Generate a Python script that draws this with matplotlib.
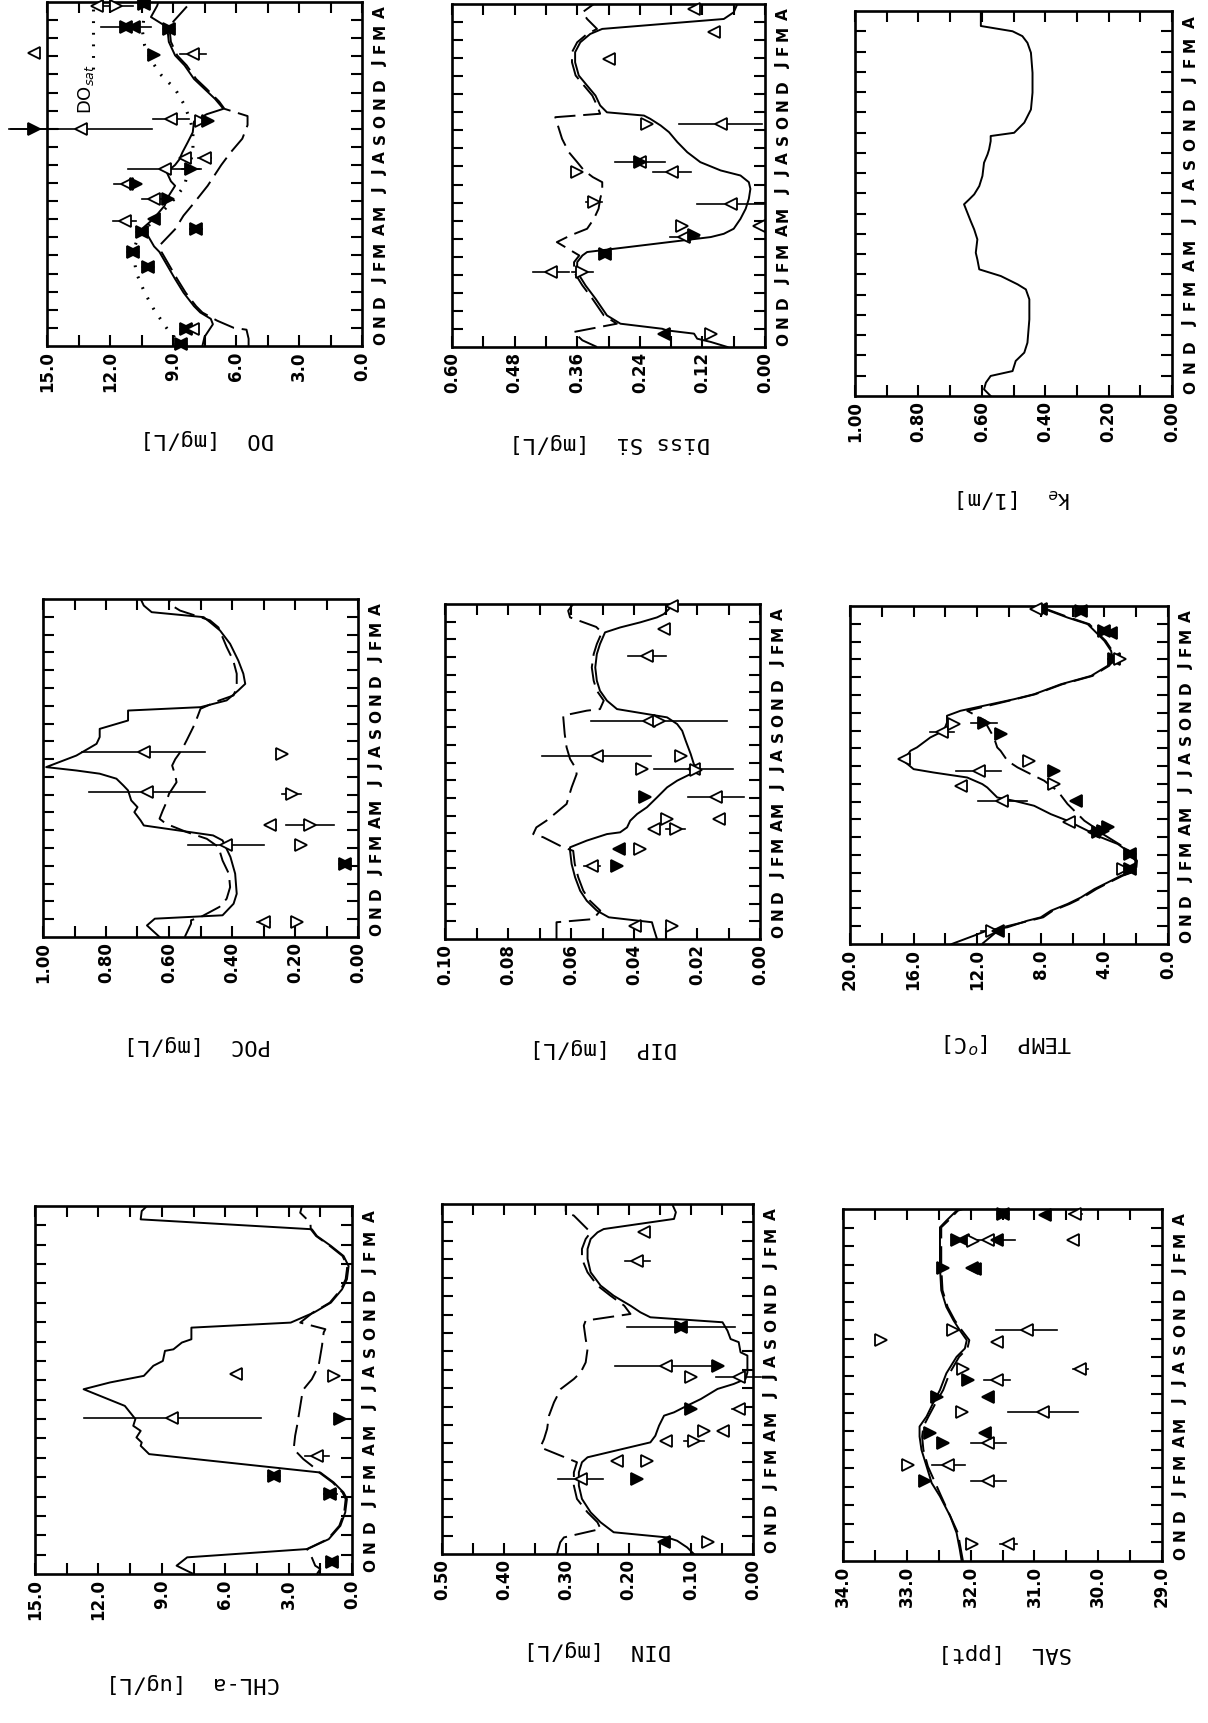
import numpy as np
import matplotlib
matplotlib.use("Agg")
import matplotlib.pyplot as plt

MONTHS = list("ONDJFMAMJJASONDJFMA")

# ---------------- CHL-a ----------------
CHL_SURF_T = [0, 0.43, 0.86, 1.29, 1.8, 2.49, 3.18, 3.87, 4.21, 4.73, 5.24, 6.19, 6.62, 6.79, 7.05, 7.39, 7.65, 8.0, 8.34, 8.68, 9.54, 9.89, 10.06, 10.23, 10.75, 11.0, 11.52, 11.6, 11.95, 12.12, 12.72, 12.98, 13.5, 14.01, 14.7, 15.22, 15.9, 16.42, 16.94, 17.45, 17.8, 18.31, 18.74, 19.0]
CHL_SURF_V = [7.5, 8.3, 7.8, 2.1, 1.1, 0.55, 0.32, 0.24, 0.4, 0.87, 1.5, 9.6, 10.0, 9.95, 10.2, 10.0, 10.35, 10.25, 10.5, 10.75, 12.7, 11.45, 10.65, 9.85, 9.4, 8.95, 8.85, 8.45, 8.05, 7.6, 7.6, 2.9, 1.8, 1.0, 0.47, 0.24, 0.16, 0.4, 1.0, 1.66, 1.9, 10.0, 9.95, 9.7]
CHL_BOT_T = [0, 0.26, 0.43, 1.03, 1.29, 1.8, 2.49, 3.18, 3.87, 4.21, 4.73, 5.24, 5.59, 5.93, 6.45, 7.14, 7.65, 9.2, 9.54, 10.06, 10.75, 11.78, 12.47, 12.64, 12.98, 13.5, 14.01, 14.7, 15.22, 15.9, 16.42, 16.94, 17.45, 17.8, 18.14, 18.65, 19.0]
CHL_BOT_V = [1.66, 1.5, 1.74, 1.97, 2.13, 1.15, 0.6, 0.37, 0.3, 0.45, 0.92, 1.55, 1.9, 2.3, 2.76, 2.69, 2.6, 2.37, 2.29, 1.9, 1.58, 1.42, 1.34, 1.26, 2.45, 1.85, 1.05, 0.52, 0.3, 0.22, 0.45, 1.05, 1.7, 1.95, 1.97, 2.45, 2.37]
CHL_OBS = [(0.6, 0.95, 'fu', 0), (0.6, 0.95, 'fd', 0),
           (4.13, 1.03, 'fu', 0.3), (4.13, 1.03, 'fd', 0),
           (5.07, 3.7, 'fu', 0), (5.07, 3.7, 'fd', 0),
           (6.1, 1.66, 'ou', 0.55), (8.0, 0.55, 'fd', 0),
           (8.08, 8.5, 'ou', 4.2), (10.32, 5.5, 'ou', 0), (10.23, 0.87, 'od', 0)]

# ---------------- POC ----------------
POC_SURF_T = [0, 0.65, 1.03, 1.22, 1.87, 2.43, 3.56, 4.5, 5.06, 5.43, 5.71, 6.27, 6.55, 7.02, 7.3, 7.68, 8.24, 8.52, 8.9, 9.18, 9.36, 9.55, 10.2, 10.58, 10.86, 11.24, 11.7, 12.17, 12.73, 12.92, 13.3, 13.86, 14.23, 14.8, 15.54, 16.48, 17.23, 17.7, 17.98, 18.26, 18.63, 19.0]
POC_SURF_V = [0.63, 0.67, 0.645, 0.43, 0.395, 0.385, 0.39, 0.405, 0.42, 0.43, 0.46, 0.68, 0.69, 0.71, 0.70, 0.72, 0.73, 0.745, 0.767, 0.82, 0.894, 0.99, 0.894, 0.857, 0.83, 0.82, 0.82, 0.73, 0.73, 0.50, 0.417, 0.38, 0.358, 0.364, 0.38, 0.406, 0.438, 0.47, 0.49, 0.655, 0.68, 0.69]
POC_BOT_T = [0, 0.75, 0.94, 1.12, 1.69, 2.15, 2.8, 3.56, 4.3, 5.06, 5.52, 5.9, 6.37, 6.65, 7.1, 7.5, 8.05, 8.7, 9.08, 9.64, 10.0, 10.5, 11.05, 11.8, 12.36, 12.83, 13.3, 13.58, 14.05, 14.8, 15.54, 16.3, 17.4, 17.8, 18.35, 18.7, 19.0]
POC_BOT_V = [0.55, 0.53, 0.53, 0.50, 0.44, 0.417, 0.406, 0.41, 0.43, 0.443, 0.48, 0.544, 0.61, 0.63, 0.62, 0.61, 0.60, 0.576, 0.58, 0.59, 0.58, 0.56, 0.544, 0.523, 0.51, 0.50, 0.44, 0.395, 0.385, 0.385, 0.396, 0.417, 0.443, 0.47, 0.565, 0.597, 0.60]
POC_OBS = [(0.84, 0.30, 'ou', 0.02), (0.84, 0.195, 'od', 0),
           (4.12, 0.04, 'fu', 0), (4.12, 0.04, 'fd', 0),
           (5.15, 0.42, 'ou', 0.12), (5.15, 0.18, 'od', 0),
           (6.27, 0.28, 'ou', 0), (6.27, 0.152, 'od', 0.077),
           (8.15, 0.67, 'ou', 0.185), (8.05, 0.21, 'od', 0.03),
           (10.4, 0.68, 'ou', 0.195), (10.3, 0.242, 'od', 0)]

# ---------------- DO ----------------
DO_SURF_T = [0, 0.5, 1.2, 1.5, 1.85, 2.2, 2.95, 3.7, 4.4, 5.2, 5.5, 6.1, 6.45, 7.0, 7.75, 8.3, 8.85, 9.1, 9.6, 10.0, 10.3, 10.7, 11.25, 11.8, 12.4, 12.8, 13.1, 13.65, 14.2, 14.75, 15.5, 16.05, 16.8, 17.35, 17.7, 18.17, 18.8, 19.0]
DO_SURF_V = [7.6, 7.5, 7.1, 7.2, 7.7, 8.0, 8.5, 8.9, 9.25, 9.65, 9.9, 10.2, 10.5, 9.95, 9.4, 9.2, 8.9, 9.1, 9.3, 8.9, 8.7, 8.55, 8.3, 8.06, 8.0, 7.4, 6.6, 7.0, 7.5, 8.0, 8.45, 8.9, 9.2, 9.25, 9.4, 10.05, 9.75, 9.7]
DO_BOT_T = [0, 0.4, 0.9, 1.0, 1.4, 1.85, 2.2, 2.95, 3.7, 4.4, 5.2, 5.6, 6.45, 7.2, 7.9, 8.85, 10.0, 10.7, 11.45, 12.2, 12.7, 13.1, 13.5, 14.2, 14.75, 15.5, 16.05, 16.8, 17.35, 17.7, 17.9, 18.8, 19.0]
DO_BOT_V = [5.4, 5.4, 5.5, 6.1, 6.9, 7.6, 7.9, 8.4, 8.8, 9.15, 9.55, 9.6, 8.9, 8.5, 8.0, 7.35, 6.7, 6.25, 5.7, 5.45, 5.45, 6.55, 6.8, 7.4, 7.9, 8.35, 8.8, 9.1, 9.15, 9.3, 9.0, 8.3, 8.2]
DO_SAT_T = [0, 0.9, 2.0, 2.95, 4.05, 5.2, 5.9, 6.8, 7.55, 8.1, 8.85, 9.6, 10.7, 11.8, 12.35, 13.3, 14.2, 14.95, 15.7, 16.6, 17.35, 18.0]
DO_SAT_V = [8.55, 9.25, 9.9, 10.35, 10.75, 10.9, 10.7, 10.05, 9.4, 8.95, 8.45, 8.3, 8.05, 8.05, 8.15, 8.45, 8.9, 9.55, 10.0, 10.35, 10.45, 10.4]
DO_OBS = [(0.1, 8.6, 'fu', 0), (0.1, 8.6, 'fd', 0),
          (0.92, 8.4, 'fu', 0), (0.92, 8.4, 'fd', 0), (0.92, 8.05, 'ou', 0),
          (5.17, 10.9, 'fu', 0), (5.17, 10.9, 'fd', 0),
          (4.34, 10.2, 'fu', 0), (4.34, 10.2, 'fd', 0),
          (6.27, 10.5, 'fu', 0), (6.27, 10.5, 'fd', 0),
          (6.46, 7.9, 'fu', 0.3), (6.46, 7.9, 'fd', 0),
          (6.9, 11.3, 'ou', 0.55), (7.0, 9.9, 'fu', 0),
          (8.1, 9.9, 'ou', 0.6), (8.1, 9.25, 'fd', 0),
          (8.95, 11.2, 'ou', 0.6), (8.95, 10.75, 'fd', 0),
          (9.8, 9.4, 'ou', 1.75), (9.8, 8.15, 'fd', 0.4),
          (10.4, 8.45, 'ou', 0), (10.4, 7.5, 'ou', 0.3),
          (12.0, 15.6, 'fd', 1.1), (12.0, 13.4, 'ou', 3.4),
          (12.55, 9.1, 'ou', 0.85), (12.45, 7.65, 'od', 0), (12.45, 7.35, 'fd', 0),
          (16.2, 15.6, 'ou', 0), (16.1, 9.9, 'fd', 0), (16.15, 8.05, 'ou', 0.6),
          (17.6, 11.25, 'fu', 1.2), (17.6, 11.25, 'fd', 0), (17.6, 10.85, 'fu', 0),
          (17.5, 9.2, 'fu', 0), (17.5, 9.2, 'fd', 0),
          (18.8, 12.6, 'ou', 0), (18.8, 11.7, 'od', 0.8),
          (18.9, 10.4, 'fu', 0), (18.9, 10.4, 'fd', 0)]

# ---------------- DIN ----------------
DIN_SURF_T = [0, 0.36, 0.72, 0.9, 1.18, 1.72, 2.26, 2.99, 3.71, 4.43, 4.98, 5.25, 6.06, 6.42, 6.7, 6.97, 7.51, 7.69, 8.05, 8.41, 8.96, 9.23, 9.5, 9.86, 10.77, 10.95, 11.5, 11.67, 12.12, 12.58, 12.85, 13.12, 13.48, 14.02, 14.57, 15.29, 16.02, 16.56, 17.1, 17.46, 17.64, 18.19, 18.55, 19.0]
DIN_SURF_V = [0.095, 0.106, 0.122, 0.138, 0.224, 0.245, 0.261, 0.275, 0.28, 0.28, 0.275, 0.266, 0.165, 0.157, 0.154, 0.151, 0.143, 0.127, 0.106, 0.084, 0.057, 0.031, 0.012, 0.009, 0.009, 0.02, 0.023, 0.036, 0.041, 0.049, 0.165, 0.181, 0.197, 0.224, 0.245, 0.261, 0.266, 0.266, 0.261, 0.25, 0.24, 0.127, 0.124, 0.13]
DIN_BOT_T = [0, 0.63, 0.9, 1.36, 1.72, 2.26, 2.99, 3.71, 4.43, 4.98, 5.79, 6.24, 6.79, 7.51, 8.23, 8.96, 9.5, 9.86, 10.4, 11.13, 11.67, 12.4, 12.67, 13.03, 13.48, 14.02, 14.57, 15.29, 16.02, 16.56, 17.1, 17.46, 18.37, 18.55, 19.0]
DIN_BOT_V = [0.315, 0.31, 0.304, 0.245, 0.25, 0.266, 0.283, 0.288, 0.288, 0.283, 0.342, 0.336, 0.331, 0.328, 0.32, 0.309, 0.288, 0.277, 0.269, 0.266, 0.269, 0.272, 0.269, 0.197, 0.207, 0.229, 0.25, 0.266, 0.275, 0.275, 0.269, 0.261, 0.288, 0.301, 0.301]
DIN_OBS = [(0.63, 0.143, 'fu', 0), (0.63, 0.073, 'od', 0),
           (4.07, 0.277, 'ou', 0.036), (4.07, 0.186, 'fd', 0),
           (5.07, 0.218, 'ou', 0), (5.07, 0.17, 'od', 0),
           (6.15, 0.14, 'ou', 0), (6.15, 0.095, 'od', 0.016),
           (6.7, 0.079, 'od', 0), (6.7, 0.049, 'ou', 0),
           (7.87, 0.1, 'fd', 0), (7.87, 0.023, 'ou', 0.01),
           (9.59, 0.1, 'od', 0), (9.59, 0.023, 'ou', 0.036),
           (10.22, 0.14, 'ou', 0.082), (10.22, 0.057, 'fd', 0),
           (12.3, 0.116, 'fu', 0.087), (12.3, 0.116, 'fd', 0),
           (15.92, 0.186, 'ou', 0.02), (17.46, 0.175, 'ou', 0)]

# ---------------- DIP ----------------
DIP_SURF_T = [0, 0.57, 0.95, 1.23, 1.61, 2.17, 2.74, 3.5, 4.25, 5.0, 5.2, 5.58, 5.95, 6.05, 6.33, 6.71, 7.09, 7.47, 8.03, 8.6, 8.98, 9.36, 9.55, 9.92, 10.49, 11.25, 11.81, 12.19, 12.57, 13.04, 13.52, 14.08, 14.65, 15.4, 16.16, 16.73, 17.39, 17.67, 17.96, 18.24, 18.43, 18.81, 19.0]
DIP_SURF_V = [0.0327, 0.0337, 0.0343, 0.048, 0.0518, 0.055, 0.0571, 0.0587, 0.0598, 0.0603, 0.0603, 0.055, 0.0486, 0.0444, 0.0422, 0.0412, 0.039, 0.0359, 0.0327, 0.0295, 0.0263, 0.022, 0.0194, 0.021, 0.022, 0.0236, 0.0247, 0.0263, 0.0295, 0.0454, 0.0486, 0.0508, 0.0518, 0.0523, 0.0518, 0.0508, 0.0492, 0.0444, 0.038, 0.0327, 0.0305, 0.0284, 0.028]
DIP_BOT_T = [0, 0.95, 1.13, 1.61, 2.17, 2.74, 3.5, 4.25, 5.0, 5.2, 5.77, 5.95, 6.33, 6.71, 7.18, 7.66, 8.6, 9.36, 9.74, 10.21, 10.87, 11.63, 12.67, 12.95, 13.04, 13.52, 14.08, 14.65, 15.4, 16.16, 16.73, 17.39, 17.7, 18.24, 18.62, 19.0]
DIP_BOT_V = [0.0646, 0.0646, 0.0529, 0.0507, 0.054, 0.0561, 0.0577, 0.0588, 0.0593, 0.0625, 0.0688, 0.072, 0.071, 0.0678, 0.0646, 0.0614, 0.0598, 0.0582, 0.0587, 0.0603, 0.0614, 0.062, 0.0625, 0.055, 0.0508, 0.0496, 0.0518, 0.0528, 0.0534, 0.0528, 0.0518, 0.0502, 0.052, 0.0603, 0.0609, 0.0593]
DIP_OBS = [(0.76, 0.0396, 'ou', 0.001), (0.76, 0.0279, 'od', 0),
           (4.16, 0.0534, 'ou', 0.0025), (4.16, 0.0454, 'fd', 0),
           (5.1, 0.0449, 'fu', 0), (5.1, 0.038, 'od', 0),
           (6.24, 0.0337, 'ou', 0), (6.24, 0.0268, 'od', 0.003),
           (6.8, 0.0295, 'od', 0), (6.8, 0.013, 'ou', 0),
           (8.03, 0.0364, 'fd', 0), (8.03, 0.014, 'ou', 0.009),
           (9.64, 0.0375, 'od', 0), (9.64, 0.021, 'ou', 0.0125), (9.6, 0.0204, 'od', 0),
           (10.4, 0.0518, 'ou', 0.0173), (10.4, 0.0252, 'od', 0),
           (12.38, 0.0353, 'ou', 0), (12.38, 0.032, 'od', 0.0216),
           (16.07, 0.0359, 'ou', 0.006), (17.58, 0.0305, 'ou', 0), (18.9, 0.0279, 'ou', 0)]

# ---------------- Diss Si ----------------
SI_SURF_T = [0, 0.28, 0.46, 0.74, 0.92, 1.01, 1.29, 1.75, 2.68, 3.41, 4.15, 4.7, 5.07, 5.26, 6.09, 6.27, 6.55, 7.1, 7.66, 8.2, 8.76, 9.13, 9.5, 9.78, 10.24, 10.79, 11.35, 11.9, 12.27, 12.64, 12.82, 13.0, 13.38, 13.93, 14.48, 15.04, 15.77, 16.33, 16.88, 17.34, 17.62, 18.17, 18.54, 19.0]
SI_SURF_V = [0.072, 0.104, 0.13, 0.136, 0.188, 0.197, 0.277, 0.303, 0.325, 0.344, 0.36, 0.36, 0.35, 0.341, 0.104, 0.079, 0.06, 0.047, 0.037, 0.031, 0.028, 0.031, 0.047, 0.085, 0.124, 0.149, 0.168, 0.184, 0.2, 0.22, 0.232, 0.303, 0.316, 0.325, 0.341, 0.357, 0.364, 0.364, 0.354, 0.335, 0.312, 0.079, 0.06, 0.053]
SI_BOT_T = [0, 0.37, 0.83, 1.29, 1.75, 2.68, 3.41, 4.15, 4.7, 5.07, 5.81, 6.18, 6.55, 7.1, 7.66, 8.2, 8.67, 9.13, 9.41, 9.78, 10.24, 10.79, 11.53, 12.45, 12.73, 12.92, 13.38, 13.93, 14.48, 15.04, 15.77, 16.33, 16.88, 17.34, 17.62, 18.17, 18.54, 19.0]
SI_BOT_V = [0.322, 0.35, 0.367, 0.284, 0.309, 0.331, 0.35, 0.366, 0.366, 0.356, 0.399, 0.373, 0.341, 0.328, 0.319, 0.316, 0.312, 0.312, 0.33, 0.347, 0.36, 0.376, 0.389, 0.399, 0.402, 0.316, 0.322, 0.331, 0.347, 0.363, 0.37, 0.37, 0.36, 0.341, 0.322, 0.341, 0.35, 0.328]
SI_OBS = [(0.74, 0.194, 'fu', 0), (0.74, 0.104, 'od', 0),
          (4.15, 0.41, 'ou', 0.035), (4.15, 0.35, 'od', 0.02),
          (5.17, 0.306, 'fu', 0), (5.17, 0.306, 'fd', 0),
          (6.09, 0.155, 'ou', 0.028), (6.18, 0.136, 'fd', 0),
          (6.73, 0.159, 'od', 0), (6.73, 0.012, 'ou', 0),
          (7.93, 0.066, 'ou', 0.064), (8.03, 0.328, 'od', 0.015),
          (9.69, 0.36, 'od', 0), (9.69, 0.178, 'ou', 0.037),
          (10.24, 0.239, 'ou', 0.048), (10.24, 0.239, 'fd', 0),
          (12.36, 0.226, 'od', 0), (12.36, 0.085, 'ou', 0.08),
          (15.96, 0.30, 'ou', 0.008), (17.43, 0.098, 'ou', 0), (18.73, 0.136, 'ou', 0)]

# ---------------- SAL ----------------
SAL_SURF_T = [0, 0.63, 1.52, 2.42, 3.49, 4.21, 5.11, 6.0, 6.72, 7.26, 7.8, 8.51, 9.23, 10.13, 11.02, 11.47, 11.92, 12.46, 13.0, 13.71, 14.61, 15.86, 17.47, 18.01, 18.37, 18.91, 19.0]
SAL_SURF_V = [32.14, 32.17, 32.22, 32.32, 32.48, 32.61, 32.69, 32.77, 32.8, 32.8, 32.69, 32.59, 32.48, 32.38, 32.22, 32.09, 32.06, 32.17, 32.27, 32.38, 32.46, 32.48, 32.48, 32.48, 32.38, 32.22, 32.15]
SAL_BOT_T = [0, 1.52, 3.49, 5.11, 6.0, 6.72, 7.26, 7.8, 8.51, 9.23, 10.13, 11.02, 11.47, 11.92, 12.46, 13.0, 13.71, 14.61, 15.86, 17.47, 18.01, 18.37, 18.91, 19.0]
SAL_BOT_V = [32.12, 32.2, 32.46, 32.67, 32.74, 32.76, 32.74, 32.66, 32.55, 32.43, 32.33, 32.18, 32.05, 32.02, 32.14, 32.25, 32.36, 32.44, 32.46, 32.46, 32.46, 32.35, 32.2, 32.12]
SAL_OBS = [(0.9, 31.98, 'od', 0), (0.9, 31.41, 'ou', 0.13),
           (4.3, 32.72, 'fd', 0), (4.3, 31.72, 'ou', 0.27),
           (5.2, 32.98, 'od', 0), (5.2, 32.35, 'ou', 0.26),
           (6.36, 32.43, 'fd', 0), (6.36, 31.72, 'ou', 0.28), (6.9, 31.77, 'fu', 0),
           (6.9, 32.64, 'fd', 0),
           (8.06, 32.14, 'od', 0), (8.06, 30.86, 'ou', 0.55),
           (8.87, 32.53, 'fd', 0), (8.87, 31.72, 'fu', 0),
           (9.77, 32.04, 'fd', 0), (9.77, 31.59, 'ou', 0.2),
           (10.39, 32.12, 'od', 0), (10.39, 30.28, 'ou', 0.12),
           (11.92, 33.4, 'od', 0.06), (11.83, 31.59, 'ou', 0),
           (12.46, 32.27, 'od', 0), (12.46, 31.12, 'ou', 0.48),
           (15.8, 32.43, 'fd', 0), (15.8, 31.98, 'fu', 0), (15.75, 31.93, 'fu', 0),
           (17.3, 32.22, 'fd', 0), (17.3, 32.12, 'fu', 0), (17.28, 31.96, 'od', 0),
           (17.35, 31.72, 'ou', 0.42), (17.3, 31.59, 'fu', 0), (17.35, 30.39, 'ou', 0),
           (18.75, 31.49, 'fu', 0), (18.75, 31.49, 'fd', 0),
           (18.7, 30.83, 'fu', 0), (18.75, 30.36, 'ou', 0.1)]

# ---------------- TEMP ----------------
TEMP_SURF_T = [0, 0.47, 0.75, 0.94, 1.31, 1.5, 1.87, 2.25, 2.62, 3.09, 3.46, 3.84, 4.03, 4.21, 4.68, 5.15, 5.62, 5.99, 6.46, 6.93, 7.3, 7.77, 8.05, 8.24, 8.8, 8.99, 9.36, 9.64, 9.83, 10.3, 10.86, 11.05, 11.61, 11.99, 12.45, 12.83, 13.11, 13.76, 14.04, 14.6, 15.07, 15.64, 16.01, 16.48, 17.04, 17.42, 17.98, 18.35, 18.91, 19.0]
TEMP_SURF_V = [13.6, 12.2, 11.4, 10.1, 8.84, 8.0, 7.37, 6.32, 5.47, 4.63, 3.79, 2.95, 2.32, 2.1, 2.05, 2.42, 3.16, 4.2, 5.26, 6.32, 7.37, 8.42, 9.68, 10.74, 11.37, 11.68, 12.63, 14.74, 16.0, 16.63, 16.2, 15.79, 14.95, 14.1, 13.9, 13.9, 13.05, 9.68, 8.42, 6.74, 4.84, 3.79, 3.47, 3.58, 4.0, 4.42, 5.05, 6.32, 8.0, 8.2]
TEMP_BOT_T = [0, 0.56, 0.94, 1.31, 1.5, 1.87, 2.25, 2.62, 3.09, 3.46, 3.84, 4.03, 4.21, 4.68, 5.15, 5.6, 6.18, 6.55, 6.93, 7.49, 7.87, 8.61, 9.18, 9.55, 9.93, 10.3, 10.86, 11.05, 11.61, 12.27, 12.55, 13.11, 13.76, 14.04, 14.6, 15.07, 15.64, 16.01, 16.48, 17.04, 17.42, 17.98, 18.35, 18.91, 19.0]
TEMP_BOT_V = [11.7, 10.95, 10.4, 8.7, 7.85, 7.25, 6.2, 5.35, 4.5, 3.7, 2.85, 2.25, 2.0, 1.95, 2.35, 3.05, 4.1, 4.63, 5.26, 5.89, 6.32, 6.95, 7.79, 8.63, 9.47, 10.1, 10.53, 10.74, 10.95, 11.37, 11.47, 12.63, 9.6, 8.35, 6.65, 4.75, 3.7, 3.4, 3.5, 3.92, 4.35, 4.95, 6.2, 7.9, 8.1]
TEMP_OBS = [(0.75, 11.05, 'od', 0.7), (0.75, 10.7, 'fu', 0),
            (4.21, 2.84, 'od', 0), (4.21, 2.42, 'fu', 0.3), (4.21, 2.42, 'fd', 0),
            (5.06, 2.42, 'fu', 0.3), (5.06, 2.42, 'fd', 0),
            (6.27, 4.63, 'fu', 0), (6.37, 4.1, 'fd', 0), (6.55, 3.79, 'fd', 0), (6.3, 4.4, 'fd', 0),
            (6.84, 6.2, 'ou', 0), (8.05, 5.79, 'fu', 0), (8.05, 10.42, 'ou', 1.53),
            (8.99, 7.16, 'od', 0), (8.9, 13.05, 'ou', 0), (9.74, 7.16, 'fd', 0),
            (9.74, 11.9, 'ou', 1.42), (10.3, 8.74, 'od', 0), (10.39, 16.63, 'ou', 0),
            (11.8, 10.53, 'fd', 0), (11.89, 14.2, 'ou', 0.74), (12.36, 13.47, 'od', 0),
            (12.45, 11.58, 'fd', 0.8),
            (16.01, 3.37, 'fu', 0.4), (16.01, 3.37, 'fd', 0), (16.01, 3.0, 'od', 0),
            (17.6, 4.0, 'fu', 0.3), (17.6, 4.0, 'fd', 0), (17.5, 3.6, 'fu', 0),
            (18.73, 5.47, 'fu', 0.3), (18.73, 5.47, 'fd', 0),
            (18.82, 8.0, 'fu', 0), (18.82, 8.3, 'ou', 0)]

# ---------------- k_e ----------------
KE_T = [0, 0.33, 0.66, 0.99, 1.23, 1.73, 2.14, 2.63, 3.78, 4.77, 5.26, 5.51, 5.92, 6.25, 6.74, 7.07, 7.73, 8.22, 8.63, 9.46, 9.7, 9.95, 10.36, 10.86, 11.51, 11.92, 12.17, 12.58, 12.83, 12.99, 13.49, 14.14, 14.97, 15.95, 16.94, 17.43, 17.76, 18.0, 18.26, 18.91, 19.0]
KE_V = [0.572, 0.593, 0.587, 0.572, 0.503, 0.493, 0.466, 0.456, 0.45, 0.45, 0.461, 0.487, 0.54, 0.608, 0.614, 0.619, 0.614, 0.624, 0.635, 0.656, 0.64, 0.624, 0.608, 0.598, 0.593, 0.582, 0.577, 0.572, 0.572, 0.498, 0.466, 0.445, 0.44, 0.44, 0.445, 0.456, 0.472, 0.503, 0.603, 0.603, 0.60]

# ---------------- figure ----------------
W, H = 1208, 1724
fig = plt.figure(figsize=(W / 100, H / 100), dpi=100)
fig.patch.set_facecolor('white')

MK = {'ou': ('<', 'white'), 'od': ('>', 'white'), 'fu': ('<', 'black'), 'fd': ('>', 'black')}
DASH = (0, (11, 4))


def panel(rect, vmin, vmax, step, fmt, surf=None, bot=None, obs=(), label='', lab_xy=(0, 0)):
    x0, x1, y0, y1 = rect
    ax = fig.add_axes([x0 / W, 1 - y1 / H, (x1 - x0) / W, (y1 - y0) / H])
    if surf is not None:
        ax.plot(surf[1], surf[0], color='k', lw=1.4)
    if bot is not None:
        ax.plot(bot[1], bot[0], color='k', lw=1.4, linestyle=DASH)
    for t, v, kind, err in obs:
        m, fc = MK[kind]
        if err > 0:
            ax.plot([v - err, v + err], [t, t], color='k', lw=1.2, clip_on=False, zorder=4)
        ax.plot([v], [t], marker=m, ms=8, mfc=fc, mec='k', mew=1.3, ls='none',
                clip_on=False, zorder=5)
    ax.set_xlim(vmax, vmin)
    ax.set_ylim(0, 19)
    ticks = np.arange(vmin, vmax + step / 2, step)
    ax.set_xticks(ticks)
    ax.set_xticklabels([fmt.format(x) for x in ticks])
    ax.set_xticks(ticks[:-1] + step / 2, minor=True)
    ax.tick_params(axis='x', which='both', direction='in', top=True, bottom=True,
                   length=8, width=1.5, labelsize=12, pad=3, labelrotation=90)
    ax.set_yticks(np.arange(1, 19))
    ax.set_yticklabels([])
    ax.set_yticks(np.arange(0.5, 19, 1.0), minor=True)
    ax.set_yticklabels(MONTHS, minor=True)
    ax.tick_params(axis='y', which='major', direction='in', left=True, right=True,
                   length=8, width=1.5, labelleft=False, labelright=False)
    ax.tick_params(axis='y', which='minor', length=0, left=False, right=False,
                   labelleft=False, labelright=True, labelsize=11, pad=8, labelrotation=90)
    for lab in ax.get_xticklabels() + ax.get_yticklabels(minor=True):
        lab.set_fontweight('bold')
    for s in ax.spines.values():
        s.set_linewidth(1.9)
    fig.text(lab_xy[0] / W, 1 - lab_xy[1] / H, label, rotation=180, ha='center', va='center',
             fontsize=16, family='DejaVu Sans Mono')
    return ax


# left column
ax_do = panel((47, 362, 3, 347), 0, 15, 3, '{:.1f}', (DO_SURF_T, DO_SURF_V), (DO_BOT_T, DO_BOT_V),
              DO_OBS, 'DO  [mg/L]', (207, 439))
ax_do.plot(DO_SAT_V, DO_SAT_T, color='k', lw=2.2, linestyle=(0, (0.6, 3.2)))
ax_do.plot([12.8, 12.8], [15.3, 18.8], color='k', lw=2.2, linestyle=(0, (0.6, 3.2)))
ax_do.text(13.15, 14.25, 'DO$_{sat}$', rotation=90, ha='center', va='center', fontsize=13)

panel((43, 358, 600, 938), 0, 1.0, 0.2, '{:.2f}', (POC_SURF_T, POC_SURF_V), (POC_BOT_T, POC_BOT_V),
      POC_OBS, 'POC  [mg/L]', (197, 1045))
panel((35, 352, 1207, 1575), 0, 15, 3, '{:.1f}', (CHL_SURF_T, CHL_SURF_V), (CHL_BOT_T, CHL_BOT_V),
      CHL_OBS, 'CHL-a  [ug/L]', (193, 1683))

# middle column
panel((452, 765, 5, 348), 0, 0.6, 0.12, '{:.2f}', (SI_SURF_T, SI_SURF_V), (SI_BOT_T, SI_BOT_V),
      SI_OBS, 'Diss Si  [mg/L]', (610, 443))
panel((445, 760, 605, 940), 0, 0.10, 0.02, '{:.2f}', (DIP_SURF_T, DIP_SURF_V), (DIP_BOT_T, DIP_BOT_V),
      DIP_OBS, 'DIP  [mg/L]', (603, 1048))
panel((442, 753, 1205, 1555), 0, 0.5, 0.1, '{:.2f}', (DIN_SURF_T, DIN_SURF_V), (DIN_BOT_T, DIN_BOT_V),
      DIN_OBS, 'DIN  [mg/L]', (597, 1650))

# right column
panel((855, 1172, 12, 397), 0, 1.0, 0.2, '{:.2f}', (KE_T, KE_V), None, (),
      'k$_e$  [1/m]', (1015, 498))
panel((850, 1168, 607, 945), 0, 20, 4, '{:.1f}', (TEMP_SURF_T, TEMP_SURF_V), (TEMP_BOT_T, TEMP_BOT_V),
      TEMP_OBS, 'TEMP  [$^o$C]', (1008, 1042))
panel((843, 1162, 1210, 1562), 29, 34, 1, '{:.1f}', (SAL_SURF_T, SAL_SURF_V), (SAL_BOT_T, SAL_BOT_V),
      SAL_OBS, 'SAL  [ppt]', (1005, 1653))

fig.savefig('out.png', dpi=100, facecolor='white')
